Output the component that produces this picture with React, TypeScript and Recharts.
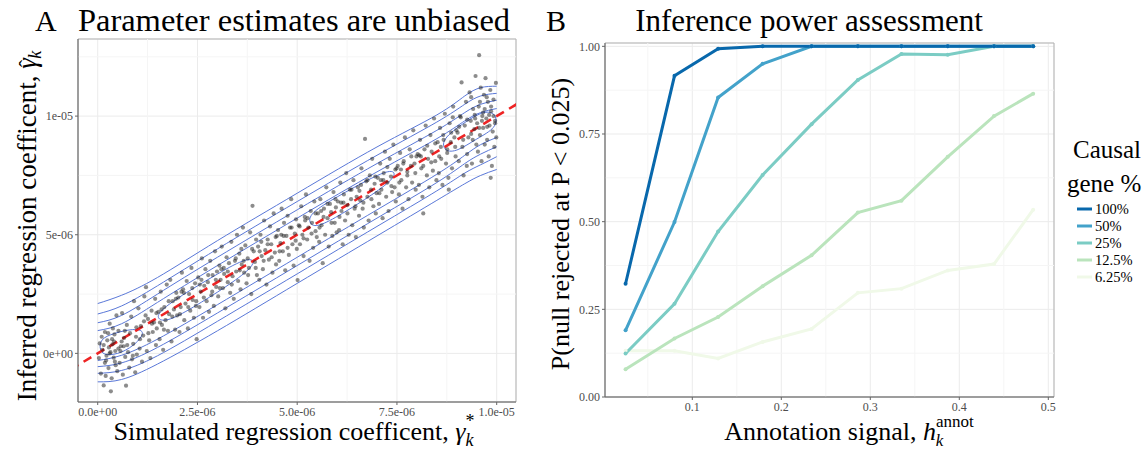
import React from "react";
import {
  ComposedChart,
  LineChart,
  Line,
  Scatter,
  XAxis,
  YAxis,
  CartesianGrid,
  ReferenceLine,
  ReferenceArea,
} from "recharts";

// ---------- Panel A (values in units of 1e-6) ----------
const simulatedPoints: [number, number][] = [
  [0.05, 0.42], [0.08, -0.85], [0.12, 0.15], [0.15, -1.35], [0.18, 0.9], [0.21, -0.3], [0.24, 0.55], [0.27, -0.62],
  [0.3, 1.25], [0.32, 0.05], [0.35, -1.05], [0.37, 0.38], [0.4, -0.18], [0.42, 0.8], [0.45, -0.5], [0.47, 1.6],
  [0.03, -0.2], [0.1, 0.7], [0.2, -0.95], [0.28, 0.25], [0.33, -1.6], [0.38, 1.05], [0.44, 0.1], [0.49, -0.75],
  [0.52, 0.95], [0.55, -0.4], [0.58, 0.3], [0.61, 1.7], [0.63, -0.9], [0.66, 0.65], [0.69, -0.15], [0.71, -1.36],
  [0.73, 1.2], [0.76, 0.05], [0.79, -0.6], [0.81, 0.85], [0.84, 1.55], [0.86, -0.25], [0.89, 0.4], [0.91, 2.2],
  [0.94, -0.8], [0.96, 0.7], [0.98, -0.05], [0.6, 0.5],
  [1.02, 1.9], [1.05, 0.2], [1.08, 1.15], [1.11, -0.35], [1.14, 0.75], [1.17, 2.4], [1.21, 2.79], [1.23, 0.1],
  [1.26, 1.45], [1.29, 0.55], [1.32, -0.2], [1.35, 1.8], [1.38, 0.9], [1.41, 1.3], [1.44, 2.3], [1.46, 0.35],
  [1.48, 1.05], [1.2, 1.6],
  [1.52, 1.75], [1.55, 0.6], [1.58, 2.6], [1.61, 1.2], [1.64, 0.15], [1.67, 1.95], [1.7, 1.4], [1.73, 2.9],
  [1.76, 0.95], [1.79, 1.65], [1.82, 3.1], [1.85, 0.5], [1.88, 2.2], [1.91, 1.85], [1.94, 1.0], [1.97, 2.55],
  [1.99, 1.6], [1.6, 1.85],
  [2.02, 2.35], [2.05, 0.9], [2.08, 1.95], [2.11, 3.4], [2.14, 2.7], [2.17, 1.4], [2.2, 2.1], [2.23, 3.05],
  [2.26, 1.05], [2.29, 2.5], [2.32, 1.8], [2.35, 3.6], [2.38, 2.25], [2.41, 1.5], [2.44, 2.95], [2.48, 0.6],
  [2.46, 2.0], [2.1, 2.6],
  [2.52, 3.2], [2.55, 1.95], [2.58, 2.6], [2.61, 4.0], [2.64, 1.5], [2.67, 2.85], [2.7, 3.55], [2.73, 2.2],
  [2.76, 3.0], [2.79, 1.75], [2.82, 3.9], [2.85, 2.45], [2.88, 3.3], [2.91, 2.0], [2.94, 4.3], [2.97, 2.8],
  [2.99, 3.45], [2.6, 3.1],
  [3.02, 2.4], [3.05, 3.7], [3.08, 3.1], [3.11, 4.5], [3.14, 2.75], [3.17, 3.35], [3.2, 1.9], [3.23, 4.05],
  [3.26, 3.0], [3.29, 3.8], [3.32, 2.55], [3.35, 4.7], [3.38, 3.25], [3.41, 2.3], [3.44, 3.9], [3.47, 3.45],
  [3.49, 5.0], [3.1, 3.55],
  [3.52, 3.05], [3.55, 4.2], [3.58, 2.7], [3.61, 3.75], [3.64, 5.3], [3.67, 3.4], [3.7, 4.55], [3.73, 2.95],
  [3.76, 4.0], [3.79, 3.6], [3.82, 5.1], [3.85, 2.5], [3.88, 6.22], [3.91, 4.3], [3.94, 3.85], [3.97, 4.8],
  [3.99, 3.3], [3.6, 4.4],
  [4.02, 4.5], [4.05, 3.1], [4.08, 5.0], [4.11, 4.1], [4.14, 3.55], [4.17, 5.6], [4.2, 4.35], [4.23, 2.9],
  [4.26, 4.8], [4.29, 3.95], [4.32, 5.35], [4.35, 4.6], [4.38, 3.4], [4.41, 5.9], [4.44, 4.25], [4.47, 3.75],
  [4.49, 4.95], [4.1, 4.7],
  [4.52, 5.2], [4.55, 3.9], [4.58, 4.65], [4.61, 6.1], [4.64, 4.3], [4.67, 5.5], [4.7, 3.5], [4.73, 4.95],
  [4.76, 5.8], [4.79, 4.15], [4.82, 5.3], [4.85, 6.5], [4.88, 4.6], [4.91, 3.7], [4.94, 5.05], [4.97, 5.65],
  [4.99, 4.4], [4.6, 5.0],
  [5.01, 3.09], [5.04, 5.4], [5.07, 4.6], [5.1, 6.2], [5.13, 5.0], [5.16, 4.1], [5.19, 5.75], [5.22, 6.7],
  [5.25, 4.8], [5.28, 5.3], [5.31, 3.9], [5.34, 6.0], [5.37, 5.5], [5.4, 4.45], [5.43, 6.4], [5.46, 5.15],
  [5.49, 4.9], [5.2, 5.6],
  [5.52, 5.9], [5.55, 4.7], [5.58, 6.5], [5.61, 5.4], [5.64, 3.8], [5.67, 6.1], [5.7, 5.0], [5.73, 7.0],
  [5.76, 5.7], [5.79, 4.5], [5.82, 6.3], [5.85, 5.95], [5.88, 4.95], [5.91, 6.8], [5.94, 5.5], [5.97, 6.15],
  [5.99, 5.1], [5.6, 6.0],
  [6.02, 6.4], [6.05, 5.2], [6.08, 7.2], [6.11, 6.0], [6.14, 4.6], [6.17, 6.7], [6.2, 5.6], [6.23, 7.6],
  [6.26, 6.25], [6.29, 5.0], [6.32, 6.9], [6.35, 6.5], [6.38, 5.4], [6.41, 7.3], [6.44, 6.1], [6.47, 4.9],
  [6.49, 6.6], [6.1, 6.35],
  [6.52, 7.0], [6.55, 5.8], [6.58, 6.45], [6.61, 7.8], [6.64, 6.1], [6.67, 5.3], [6.7, 9.04], [6.73, 7.25],
  [6.76, 6.6], [6.79, 5.6], [6.82, 7.5], [6.85, 6.9], [6.88, 8.2], [6.91, 6.2], [6.94, 7.15], [6.97, 5.9],
  [6.99, 6.75], [6.6, 7.1],
  [7.02, 7.4], [7.05, 6.3], [7.08, 8.0], [7.11, 6.9], [7.14, 5.7], [7.17, 7.6], [7.2, 8.5], [7.23, 6.6],
  [7.26, 7.2], [7.29, 6.0], [7.32, 8.2], [7.35, 7.45], [7.38, 6.8], [7.41, 8.8], [7.44, 7.0], [7.47, 6.4],
  [7.49, 7.8], [7.1, 7.3],
  [7.52, 7.9], [7.55, 6.7], [7.58, 8.45], [7.61, 7.3], [7.64, 6.1], [7.67, 8.1], [7.7, 9.1], [7.73, 7.0],
  [7.76, 7.65], [7.79, 6.5], [7.82, 8.6], [7.85, 7.9], [7.88, 7.2], [7.91, 9.4], [7.94, 8.0], [7.97, 6.9],
  [7.99, 8.3], [7.6, 7.75],
  [8.02, 8.4], [8.05, 7.1], [8.08, 9.0], [8.11, 7.8], [8.14, 6.6], [8.16, 5.9], [8.19, 8.6], [8.22, 9.6],
  [8.25, 7.5], [8.28, 8.2], [8.31, 7.0], [8.34, 9.2], [8.37, 8.5], [8.4, 7.7], [8.43, 9.9], [8.46, 8.1],
  [8.49, 7.3], [8.1, 8.3],
  [8.52, 8.9], [8.55, 7.6], [8.58, 9.5], [8.61, 8.2], [8.64, 7.1], [8.67, 9.0], [8.7, 10.1], [8.73, 8.0],
  [8.76, 8.6], [8.79, 7.4], [8.82, 9.7], [8.85, 8.9], [8.88, 7.8], [8.91, 10.4], [8.94, 9.1], [8.97, 8.3],
  [8.99, 9.4], [8.6, 8.7], [8.8, 6.9], [8.9, 9.95],
  [9.02, 9.3], [9.05, 8.1], [9.08, 10.0], [9.12, 11.42], [9.14, 8.7], [9.17, 7.5], [9.2, 9.6], [9.23, 10.6],
  [9.26, 8.4], [9.29, 9.1], [9.32, 11.0], [9.35, 9.8], [9.38, 8.0], [9.41, 10.3], [9.44, 9.45], [9.47, 11.69],
  [9.49, 8.8], [9.1, 9.95], [9.25, 7.9], [9.36, 10.8], [9.4, 9.0], [9.45, 10.05],
  [9.51, 9.7], [9.53, 8.5], [9.55, 10.4], [9.56, 12.57], [9.58, 9.2], [9.6, 11.2], [9.62, 8.1], [9.64, 10.0],
  [9.66, 9.5], [9.68, 10.9], [9.7, 8.8], [9.72, 11.6], [9.74, 9.9], [9.76, 9.0], [9.78, 10.6], [9.8, 8.3],
  [9.82, 9.6], [9.84, 11.1], [9.86, 10.2], [9.88, 7.9], [9.9, 9.35], [9.92, 10.7], [9.94, 8.7], [9.96, 9.8],
  [9.98, 11.4], [9.99, 9.1], [9.7, 10.3], [9.85, 7.4],
];

// the dense core of the cloud, close to the diagonal
const simulatedCorePoints: [number, number][] = [
  [0.15, 0.35], [0.22, -0.1], [0.36, 0.6], [0.43, -0.35], [0.57, 0.1], [0.68, 0.95], [0.74, 0.35], [0.88, -0.1],
  [0.97, 1.1], [1.06, 0.6], [1.16, 1.35], [1.27, 0.85], [1.36, 1.25], [1.47, 1.7], [1.56, 1.3], [1.66, 1.0],
  [1.78, 2.2], [1.87, 1.55], [1.96, 2.3], [2.06, 1.65], [2.16, 2.55], [2.27, 1.95], [2.37, 2.75], [2.47, 2.2],
  [2.56, 2.9], [2.66, 2.35], [2.77, 3.3], [2.87, 2.6], [2.96, 3.1], [3.06, 2.75], [3.16, 3.6], [3.26, 3.45],
  [3.36, 2.9], [3.46, 4.0], [3.56, 3.5], [3.66, 3.9], [3.77, 3.3], [3.87, 4.4], [3.96, 3.6], [4.06, 4.3],
  [4.16, 3.9], [4.26, 4.6], [4.36, 4.05], [4.46, 4.9], [4.56, 4.3], [4.66, 4.95], [4.76, 4.45], [4.86, 5.3],
  [4.96, 4.75], [5.06, 5.35], [5.16, 4.85], [5.26, 5.7], [5.36, 5.05], [5.46, 5.9], [5.56, 5.3], [5.66, 5.75],
  [5.76, 6.3], [5.86, 5.5], [5.96, 6.5], [6.06, 5.75], [6.16, 6.35], [6.26, 5.9], [6.36, 6.9], [6.46, 6.2],
  [6.56, 6.85], [6.66, 6.35], [6.76, 7.3], [6.86, 6.5], [6.96, 7.45], [7.06, 6.75], [7.16, 7.3], [7.26, 7.85],
  [7.36, 7.05], [7.46, 7.75], [7.56, 7.2], [7.66, 8.0], [7.76, 7.5], [7.86, 8.3], [7.96, 7.6], [8.06, 8.35],
  [8.16, 7.9], [8.26, 8.75], [8.36, 8.05], [8.46, 8.85], [8.56, 8.3], [8.66, 9.2], [8.76, 8.45], [8.86, 9.3],
  [8.96, 8.7], [9.06, 9.55], [9.16, 9.0], [9.26, 9.85], [9.36, 9.25], [9.46, 9.9], [9.56, 9.5], [9.66, 10.15],
  [9.76, 9.55], [9.86, 10.4], [9.96, 9.7], [9.58, 10.6], [9.75, 10.8], [9.92, 10.0], [9.63, 9.8], [9.81, 10.05],
  [0.3, 0.0], [0.52, 0.2], [0.18, -0.4], [0.41, 0.5], [0.65, 0.3], [0.26, 0.85],
];

// density contour lines (open bands)
const contourUpper1: [number, number][] = [
  [0, 2.1], [0.6, 2.45], [1.5, 3.2], [3, 4.75], [5, 6.75], [7, 8.7], [8.5, 10.05], [9.2, 10.85], [9.6, 11.2], [10, 11.26],
];
const contourUpper2: [number, number][] = [
  [0, 1.66], [0.6, 2.0], [1.5, 2.85], [3, 4.4], [5, 6.4], [7, 8.35], [8.5, 9.75], [9.2, 10.5], [9.6, 10.85], [10, 10.96],
];
const contourUpper3: [number, number][] = [
  [0, 1.29], [0.6, 1.6], [1.5, 2.5], [3, 4.05], [5, 6.05], [7, 8.0], [8.5, 9.4], [9.2, 10.15], [9.6, 10.5], [10, 10.67],
];
const contourUpper4: [number, number][] = [
  [0, 0.96], [0.6, 1.25], [1.5, 2.15], [3, 3.7], [5, 5.7], [7, 7.65], [8.5, 9.05], [9.2, 9.8], [9.6, 10.15], [10, 10.32],
];
const contourLower1: [number, number][] = [
  [0, -1.2], [0.6, -1.1], [1.5, -0.45], [3, 0.95], [5, 2.95], [7, 4.95], [8.5, 6.45], [9.2, 7.15], [9.6, 7.5], [10, 7.75],
];
const contourLower2: [number, number][] = [
  [0, -0.84], [0.6, -0.72], [1.5, -0.1], [3, 1.35], [5, 3.35], [7, 5.35], [8.5, 6.85], [9.2, 7.6], [9.6, 7.95], [10, 8.29],
];
const contourLower3: [number, number][] = [
  [0, -0.56], [0.6, -0.4], [1.5, 0.25], [3, 1.7], [5, 3.7], [7, 5.7], [8.5, 7.2], [9.2, 8.0], [9.6, 8.4], [10, 8.71],
];
const contourLower4: [number, number][] = [
  [0, -0.3], [0.6, -0.08], [1.5, 0.6], [3, 2.05], [5, 4.05], [7, 6.05], [8.5, 7.55], [9.2, 8.35], [9.6, 8.8], [10, 9.1],
];
// inner closed loops
const contourLoopA: [number, number][] = [
  [0.05, 0.6], [0.4, 0.85], [0.9, 1.05], [1.2, 0.95], [1.0, 0.45], [0.6, 0.0], [0.2, -0.1], [0.05, 0.1],
];
const contourLoopB: [number, number][] = [
  [1.5, 1.75], [2.2, 2.55], [3.0, 3.35], [3.8, 4.1], [4.0, 3.8], [3.4, 3.0], [2.6, 2.15], [1.8, 1.35], [1.5, 1.4],
];
const contourLoopC: [number, number][] = [
  [5.3, 5.9], [6.0, 6.6], [6.8, 7.35], [7.4, 7.8], [7.5, 7.45], [6.9, 6.7], [6.1, 5.85], [5.5, 5.3], [5.3, 5.45],
];
const contourLoopD: [number, number][] = [
  [8.6, 9.0], [9.2, 9.75], [9.7, 10.25], [10, 10.1], [10, 9.5], [9.5, 9.05], [9.0, 8.5], [8.7, 8.5],
];

const openContours = [
  contourUpper1, contourUpper2, contourUpper3, contourUpper4,
  contourLower1, contourLower2, contourLower3, contourLower4,
];
const closedContours = [contourLoopA, contourLoopB, contourLoopC, contourLoopD];

const identityLine: [number, number][] = [[-1, -1], [11, 11]];

const aXDomain: [number, number] = [-0.494, 10.484];
const aYDomain: [number, number] = [-2.05, 13.25];
const aXTicks = [0, 2.5, 5, 7.5, 10];
const aXTickLabels = ["0.0e+00", "2.5e-06", "5.0e-06", "7.5e-06", "1.0e-05"];
const aYTicks = [0, 5, 10];
const aYTickLabels = ["0e+00", "5e-06", "1e-05"];
const aXMinor = [1.25, 3.75, 6.25, 8.75];
const aYMinor = [2.5, 7.5, 12.5];

// ---------- Panel B ----------
const annotSignal = [0.025, 0.08, 0.129, 0.179, 0.234, 0.286, 0.335, 0.387, 0.439, 0.483];
const power100 = [0.323, 0.916, 0.993, 1, 1, 1, 1, 1, 1, 1];
const power50 = [0.19, 0.499, 0.854, 0.95, 1, 1, 1, 1, 1, 1];
const power25 = [0.124, 0.266, 0.472, 0.633, 0.778, 0.904, 0.978, 0.976, 1, 1];
const power12 = [0.079, 0.167, 0.228, 0.316, 0.404, 0.526, 0.56, 0.685, 0.801, 0.865];
const power6 = [0.132, 0.132, 0.11, 0.157, 0.194, 0.297, 0.309, 0.361, 0.379, 0.534];

const causalSeries = [
  { key: "p100", label: "100%", color: "#0868ac", values: power100 },
  { key: "p50", label: "50%", color: "#43a2ca", values: power50 },
  { key: "p25", label: "25%", color: "#7bccc4", values: power25 },
  { key: "p12", label: "12.5%", color: "#bae4bc", values: power12 },
  { key: "p6", label: "6.25%", color: "#f0f9e8", values: power6 },
];

const bXDomain: [number, number] = [0.0019, 0.5064];
const bYDomain: [number, number] = [0, 1.0095];
const bXTicks = [0.1, 0.2, 0.3, 0.4, 0.5];
const bYTicks = [0, 0.25, 0.5, 0.75, 1];
const bYTickLabels = ["0.00", "0.25", "0.50", "0.75", "1.00"];
const bXMinor = [0.05, 0.15, 0.25, 0.35, 0.45];
const bYMinor = [0.125, 0.375, 0.625, 0.875];

const powerData = annotSignal.map((h, i) => {
  const row: Record<string, number> = { h };
  causalSeries.forEach((s) => (row[s.key] = s.values[i]));
  return row;
});

const toXY = (pts: [number, number][]) => pts.map(([x, y]) => ({ x, y }));

const serif = "Liberation Serif";
const tickStyle = { fontSize: 12, fill: "#4d4d4d", fontFamily: serif };
const majorGrid = "#ebebeb";
const minorGrid = "#f5f5f5";
const contourColor = "#5a78d8";

const dotShape = (p: any) => (
  <circle cx={p.cx} cy={p.cy} r={2.1} fill="#1a1a1a" fillOpacity={0.5} />
);

function PanelA() {
  return (
    <ComposedChart
      width={540}
      height={449}
      margin={{ top: 39, right: 24, bottom: 27, left: 28 }}
    >
      <CartesianGrid stroke={majorGrid} />
      {aXMinor.map((v) => (
        <ReferenceLine key={"ax" + v} x={v} stroke={minorGrid} />
      ))}
      {aYMinor.map((v) => (
        <ReferenceLine key={"ay" + v} y={v} stroke={minorGrid} />
      ))}
      <XAxis
        type="number"
        dataKey="x"
        domain={aXDomain}
        allowDataOverflow
        ticks={aXTicks}
        interval={0}
        tickFormatter={(v: number) => aXTickLabels[aXTicks.indexOf(v)] ?? ""}
        tick={tickStyle}
        tickSize={3}
        tickMargin={2}
        height={20}
        stroke="#666"
      />
      <YAxis
        type="number"
        dataKey="y"
        domain={aYDomain}
        allowDataOverflow
        ticks={aYTicks}
        interval={0}
        tickFormatter={(v: number) => aYTickLabels[aYTicks.indexOf(v)] ?? ""}
        tick={tickStyle}
        tickSize={3}
        tickMargin={2}
        width={50}
        stroke="#666"
      />
      <ReferenceArea
        x1={aXDomain[0]}
        x2={aXDomain[1]}
        y1={aYDomain[0]}
        y2={aYDomain[1]}
        fill="none"
        stroke="#b3b3b3"
        ifOverflow="visible"
      />
      <Scatter data={toXY(simulatedPoints)} dataKey="y" isAnimationActive={false} shape={dotShape} />
      <Scatter data={toXY(simulatedCorePoints)} dataKey="y" isAnimationActive={false} shape={dotShape} />
      {openContours.map((c, i) => (
        <Line
          key={"oc" + i}
          data={toXY(c)}
          dataKey="y"
          type="natural"
          stroke={contourColor}
          strokeWidth={1}
          dot={false}
          activeDot={false}
          isAnimationActive={false}
        />
      ))}
      {closedContours.map((c, i) => (
        <Line
          key={"cc" + i}
          data={toXY(c)}
          dataKey="y"
          type="basisClosed"
          stroke={contourColor}
          strokeWidth={1}
          dot={false}
          activeDot={false}
          isAnimationActive={false}
        />
      ))}
      <ReferenceLine
        segment={toXY(identityLine)}
        stroke="#ee2424"
        strokeWidth={2.6}
        strokeDasharray="9 6"
        ifOverflow="hidden"
      />
    </ComposedChart>
  );
}

function PanelB() {
  return (
    <LineChart
      width={606}
      height={449}
      data={powerData}
      margin={{ top: 43, right: 92, bottom: 32, left: 25 }}
    >
      <CartesianGrid stroke={majorGrid} />
      {bXMinor.map((v) => (
        <ReferenceLine key={"bx" + v} x={v} stroke={minorGrid} />
      ))}
      {bYMinor.map((v) => (
        <ReferenceLine key={"by" + v} y={v} stroke={minorGrid} />
      ))}
      <XAxis
        type="number"
        dataKey="h"
        domain={bXDomain}
        allowDataOverflow
        ticks={bXTicks}
        interval={0}
        tick={tickStyle}
        tickSize={3}
        tickMargin={2}
        height={20}
        stroke="#666"
      />
      <YAxis
        type="number"
        domain={bYDomain}
        allowDataOverflow
        ticks={bYTicks}
        interval={0}
        tickFormatter={(v: number) => bYTickLabels[bYTicks.indexOf(v)] ?? ""}
        tick={tickStyle}
        tickSize={3}
        tickMargin={2}
        width={40}
        stroke="#666"
      />
      <ReferenceArea
        x1={bXDomain[0]}
        x2={bXDomain[1]}
        y1={bYDomain[0]}
        y2={bYDomain[1]}
        fill="none"
        stroke="#b3b3b3"
        ifOverflow="visible"
      />
      {[...causalSeries].reverse().map((s) => (
        <Line
          key={s.key}
          dataKey={s.key}
          type="linear"
          stroke={s.color}
          strokeWidth={3}
          dot={{ r: 2, fill: s.color, stroke: "none" }}
          activeDot={false}
          isAnimationActive={false}
        />
      ))}
    </LineChart>
  );
}

function Overlay() {
  const itemGap = 17;
  return (
    <svg
      width={1146}
      height={449}
      style={{ position: "absolute", left: 0, top: 0, pointerEvents: "none", fontFamily: serif }}
      fill="#000"
    >
      <text x={35} y={31} fontSize={30}>A</text>
      <text x={294} y={31} fontSize={32.5} textAnchor="middle">
        Parameter estimates are unbiased
      </text>
      <text x={546} y={31} fontSize={30}>B</text>
      <text x={809} y={31} fontSize={31} textAnchor="middle">
        Inference power assessment
      </text>

      <text x={294} y={440} fontSize={26} textAnchor="middle">
        {"Simulated regression coefficent, "}
        <tspan fontStyle="italic">γ</tspan>
        <tspan fontSize={18} dy={-13}>*</tspan>
        <tspan fontSize={18} fontStyle="italic" dx={-9} dy={19}>k</tspan>
      </text>
      <text x={36} y={226} fontSize={27} textAnchor="middle" transform="rotate(-90 36 226)">
        {"Inferred regression coefficent, "}
        <tspan fontStyle="italic">γ</tspan>
        <tspan fontSize={22} dx={-9} dy={-2}>{"\u02c6"}</tspan>
        <tspan fontSize={18} fontStyle="italic" dx={1} dy={7}>k</tspan>
      </text>

      <text x={849} y={440} fontSize={26} textAnchor="middle">
        {"Annotation signal, "}
        <tspan fontStyle="italic">h</tspan>
        <tspan fontSize={17} dy={-13}>annot</tspan>
        <tspan fontSize={17} fontStyle="italic" dx={-38} dy={19}>k</tspan>
      </text>
      <text x={569} y={224} fontSize={26} textAnchor="middle" transform="rotate(-90 569 224)">
        {"P(null rejected at P < 0.025)"}
      </text>

      <text x={1073} y={158} fontSize={25}>Causal</text>
      <text x={1067} y={192} fontSize={25}>gene %</text>
      {causalSeries.map((s, i) => (
        <g key={s.key}>
          <line
            x1={1077}
            x2={1092}
            y1={209 + i * itemGap}
            y2={209 + i * itemGap}
            stroke={s.color}
            strokeWidth={3}
          />
          <text x={1095} y={214 + i * itemGap} fontSize={14.5}>
            {s.label}
          </text>
        </g>
      ))}
    </svg>
  );
}

export default function App() {
  return (
    <div
      style={{
        position: "absolute",
        left: 0,
        top: 0,
        width: 1146,
        height: 449,
        background: "#fff",
        overflow: "hidden",
        fontFamily: serif,
      }}
    >
      <div style={{ position: "absolute", left: 0, top: 0 }}>
        <PanelA />
      </div>
      <div style={{ position: "absolute", left: 540, top: 0 }}>
        <PanelB />
      </div>
      <Overlay />
    </div>
  );
}
